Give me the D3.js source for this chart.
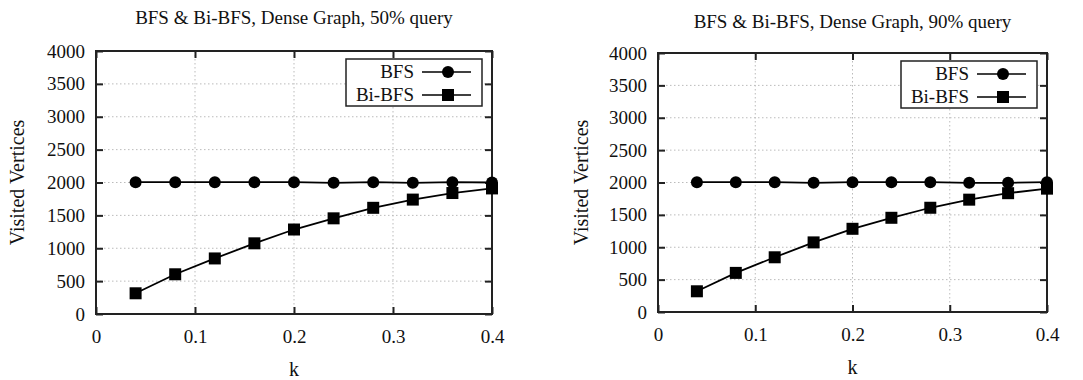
<!DOCTYPE html>
<html>
<head>
<meta charset="utf-8">
<script src="https://cdn.jsdelivr.net/npm/d3@7"></script>
<style>
  body { margin: 0; background: #fff; }
  svg { display: block; }
  text { font-family: 'Liberation Serif', 'Times New Roman', serif; }
</style>
</head>
<body>
<div id="chart"></div>
<script>

const kValues = [0.04, 0.08, 0.12, 0.16, 0.2, 0.24, 0.28, 0.32, 0.36, 0.4];

const bfs50 = [2005, 2005, 2005, 2005, 2005, 1995, 2005, 1995, 2005, 2000];
const biBfs50 = [315, 604, 845, 1075, 1285, 1455, 1615, 1740, 1840, 1910];

const bfs90 = [2005, 2005, 2005, 1995, 2005, 2005, 2005, 1995, 1995, 2005];
const biBfs90 = [320, 604, 845, 1075, 1285, 1455, 1610, 1735, 1835, 1905];

const xTicks = [0, 0.1, 0.2, 0.3, 0.4];
const yTicks = [0, 500, 1000, 1500, 2000, 2500, 3000, 3500, 4000];
const seriesNames = ['BFS', 'Bi-BFS'];

const FONT = "'Liberation Serif', 'Times New Roman', serif";

const svg = d3.select('#chart').append('svg')
  .attr('width', 1083)
  .attr('height', 380);

function makePanel(title, bfsData, biData, box) {
  let g = svg.append('g');
  let x = d3.scaleLinear().domain([0, 0.4]).range([box.left, box.right]);
  let y = d3.scaleLinear().domain([0, 4000]).range([box.bottom, box.top]);

  // grid, only inner ticks
  g.selectAll('.gx').data(xTicks.slice(1, -1)).enter().append('line')
    .attr('x1', d => x(d)).attr('x2', d => x(d))
    .attr('y1', box.top).attr('y2', box.bottom)
    .attr('stroke', '#bbb').attr('stroke-width', 1)
    .attr('stroke-dasharray', '1.5,2.5');
  g.selectAll('.gy').data(yTicks.slice(1, -1)).enter().append('line')
    .attr('x1', box.left).attr('x2', box.right)
    .attr('y1', d => y(d)).attr('y2', d => y(d))
    .attr('stroke', '#bbb').attr('stroke-width', 1)
    .attr('stroke-dasharray', '1.5,2.5');

  // axes with inward ticks, mirrored on all four sides
  let tickLen = 7;
  let axisB = g.append('g').attr('transform', 'translate(0,' + box.bottom + ')')
    .call(d3.axisBottom(x).tickValues(xTicks).tickSize(-tickLen).tickPadding(16)
      .tickFormat(d => d === 0 ? '0' : d3.format('.1f')(d)));
  let axisT = g.append('g').attr('transform', 'translate(0,' + box.top + ')')
    .call(d3.axisTop(x).tickValues(xTicks).tickSize(-tickLen).tickFormat(''));
  let axisL = g.append('g').attr('transform', 'translate(' + box.left + ',0)')
    .call(d3.axisLeft(y).tickValues(yTicks).tickSize(-tickLen).tickPadding(11)
      .tickFormat(d3.format('d')));
  let axisR = g.append('g').attr('transform', 'translate(' + box.right + ',0)')
    .call(d3.axisRight(y).tickValues(yTicks).tickSize(-tickLen).tickFormat(''));

  for (let a of [axisB, axisT, axisL, axisR]) {
    a.attr('font-family', FONT).attr('font-size', 19);
    a.select('.domain').remove();
    a.selectAll('line').attr('stroke', '#222').attr('stroke-width', 2);
    a.selectAll('text').style('font-family', FONT).attr('font-size', 19).attr('fill', '#111');
  }

  g.append('rect')
    .attr('x', box.left).attr('y', box.top)
    .attr('width', box.right - box.left).attr('height', box.bottom - box.top)
    .attr('fill', 'none').attr('stroke', '#222').attr('stroke-width', 2);

  // lines and markers
  let line = d3.line().x(d => x(d[0])).y(d => y(d[1]));
  let bfsPts = kValues.map((k, i) => [k, bfsData[i]]);
  let biPts = kValues.map((k, i) => [k, biData[i]]);

  g.append('path').attr('d', line(bfsPts))
    .attr('fill', 'none').attr('stroke', '#000').attr('stroke-width', 1.8);
  g.append('path').attr('d', line(biPts))
    .attr('fill', 'none').attr('stroke', '#000').attr('stroke-width', 1.8);

  g.selectAll('.ptc').data(bfsPts).enter().append('circle')
    .attr('cx', d => x(d[0])).attr('cy', d => y(d[1])).attr('r', 6)
    .attr('fill', '#000');
  g.selectAll('.pts').data(biPts).enter().append('rect')
    .attr('x', d => x(d[0]) - 6).attr('y', d => y(d[1]) - 6)
    .attr('width', 12).attr('height', 12)
    .attr('fill', '#000');

  // legend
  let lg = g.append('g');
  lg.append('rect')
    .attr('x', box.right - 146).attr('y', box.top + 8)
    .attr('width', 136).attr('height', 47)
    .attr('fill', '#fff').attr('stroke', '#222').attr('stroke-width', 1.5);
  for (let i = 0; i < seriesNames.length; i++) {
    let ly = box.top + 21 + i * 23;
    lg.append('text')
      .text(seriesNames[i])
      .attr('x', box.right - 78).attr('y', ly + 6)
      .attr('text-anchor', 'end')
      .style('font-family', FONT).attr('font-size', 19).attr('fill', '#111');
    lg.append('line')
      .attr('x1', box.right - 70).attr('x2', box.right - 21)
      .attr('y1', ly).attr('y2', ly)
      .attr('stroke', '#000').attr('stroke-width', 1.6);
    let mx = box.right - 44;
    if (i === 0) {
      lg.append('circle').attr('cx', mx).attr('cy', ly).attr('r', 6).attr('fill', '#000');
    } else {
      lg.append('rect').attr('x', mx - 6).attr('y', ly - 6)
        .attr('width', 12).attr('height', 12).attr('fill', '#000');
    }
  }

  // titles
  let midX = (box.left + box.right) / 2;
  g.append('text')
    .text(title)
    .attr('x', midX).attr('y', box.titleY)
    .attr('text-anchor', 'middle')
    .style('font-family', FONT).attr('font-size', 19).attr('fill', '#111');

  g.append('text')
    .text('k')
    .attr('x', midX).attr('y', box.bottom + 62)
    .attr('text-anchor', 'middle')
    .style('font-family', FONT).attr('font-size', 20).attr('fill', '#111');

  g.append('text')
    .text('Visited Vertices')
    .attr('transform', 'translate(' + box.yTitleX + ',' + ((box.top + box.bottom) / 2) + ') rotate(-90)')
    .attr('text-anchor', 'middle')
    .style('font-family', FONT).attr('font-size', 20).attr('fill', '#111');
}

makePanel('BFS & Bi-BFS, Dense Graph, 50% query', bfs50, biBfs50,
  {left: 96, right: 492, top: 51, bottom: 314, titleY: 24, yTitleX: 24});
makePanel('BFS & Bi-BFS, Dense Graph, 90% query', bfs90, biBfs90,
  {left: 658, right: 1047, top: 53, bottom: 312, titleY: 28, yTitleX: 588});

</script>
</body>
</html>
